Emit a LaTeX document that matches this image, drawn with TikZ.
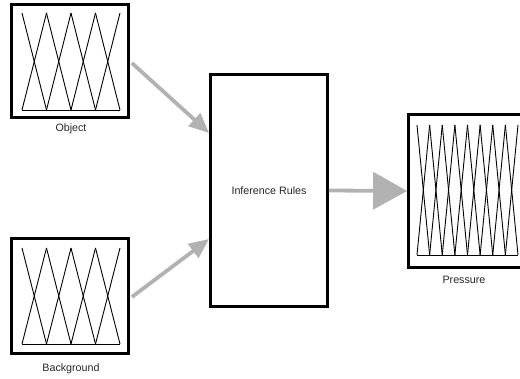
\documentclass[tikz,border=0pt]{standalone}
\usepackage{fontspec}
\setmainfont{Liberation Sans}
\usetikzlibrary{arrows.meta}

% Draw a row of triangular membership functions:
% #1 first peak x, #2 spacing, #3 number of peaks, #4 top y, #5 base y
\newcommand{\fuzzyset}[5]{%
  \pgfmathtruncatemacro{\lastidx}{#3-2}%
  \foreach \i in {0,...,\lastidx}{%
    \draw[mf] ({#1+\i*#2},#4) -- ({#1+(\i+1)*#2},#5);
    \draw[mf] ({#1+\i*#2},#5) -- ({#1+(\i+1)*#2},#4);
  }%
  \draw[mf] (#1,#5) -- ({#1+(#3-1)*#2},#5);%
}

\begin{document}
\begin{tikzpicture}[x=1pt,y=-1pt,
  block/.style={draw=black,line width=2.8pt,fill=none,inner sep=0pt,rectangle},
  mf/.style={draw=black,line width=0.9pt},
  lbl/.style={font=\fontsize{10.7}{12}\selectfont,inner sep=0pt,text=black!85},
  flow/.style={draw=black!30,line width=3.8pt},
  smalltip/.style={-{Triangle[length=20pt,width=17pt]}},
  bigtip/.style={-{Triangle[length=34pt,width=37pt]}}]
\useasboundingbox (0,0) rectangle (520,379);
\clip (0,0) rectangle (520,379);

% input and output variable blocks
\node[block,minimum width=117pt,minimum height=113pt] (obj) at (70,61) {};
\node[block,minimum width=117pt,minimum height=115pt] (bg) at (70,296) {};
\node[block,minimum width=117pt,minimum height=232pt] (inf) at (269,190.5) {};
\node[block,minimum width=118pt,minimum height=153pt] (pres) at (467.5,191) {};

% membership functions inside the blocks
\fuzzyset{22}{24.5}{5}{13}{110}
\fuzzyset{22}{24.5}{5}{248}{344}
\fuzzyset{417}{12.625}{9}{125}{255}

% labels
\node[lbl] (objl) at (71,129) {Object};
\node[lbl] (bgl) at (71,369) {Background};
\node[lbl] (presl) at (464,280) {Pressure};
\node[lbl] (infl) at (inf.center) {Inference Rules};

% connectors
\draw[flow,smalltip] ([xshift=2pt,yshift=-2pt]obj.east) -- ([yshift=57.5pt]inf.west);
\draw[flow,smalltip] ([xshift=2pt,yshift=-1pt]bg.east) -- ([yshift=-48.5pt]inf.west);
\draw[flow,bigtip] (inf.east) -- (pres.west);
\end{tikzpicture}
\end{document}
